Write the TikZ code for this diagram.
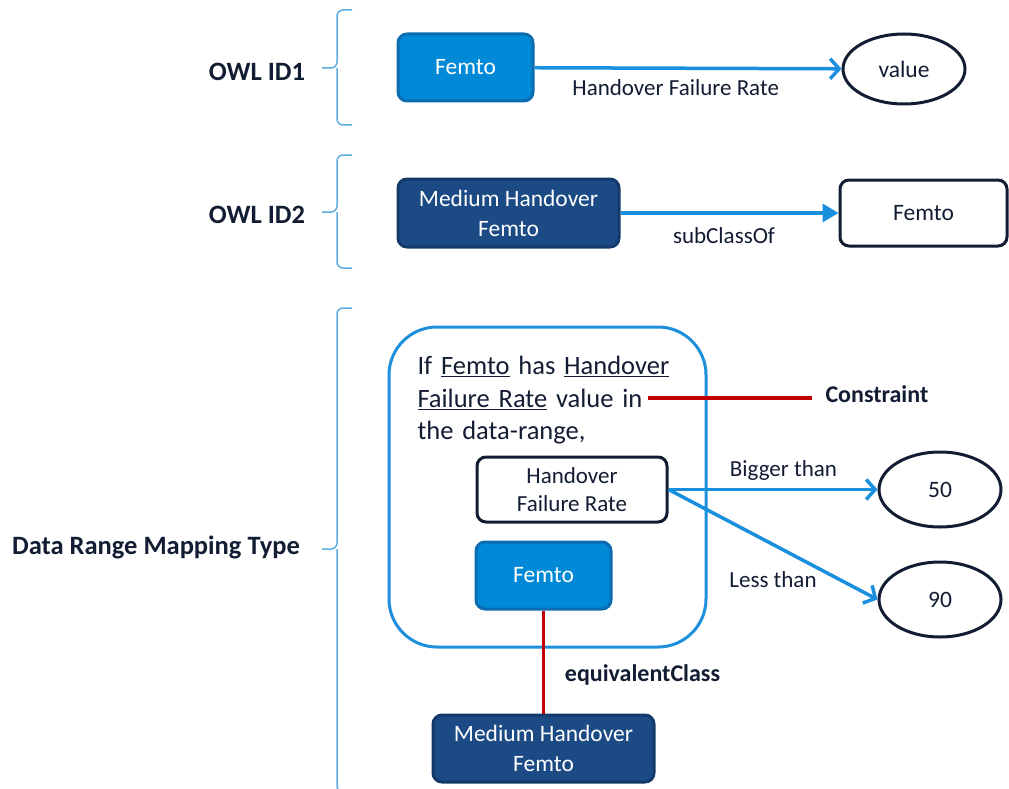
\documentclass[tikz,border=0pt]{standalone}
\usepackage{fontspec}
\setmainfont{Carlito}
\usetikzlibrary{arrows.meta,shapes.geometric,positioning}

\definecolor{femtoblue}{HTML}{0089D6}
\definecolor{femtoedge}{HTML}{0B6DB0}
\definecolor{darkblue}{HTML}{1B4A84}
\definecolor{darkedge}{HTML}{143A6B}
\definecolor{arrowblue}{HTML}{1A8FDD}
\definecolor{frameblue}{HTML}{1E8FDA}
\definecolor{bracecolor}{HTML}{5DADE2}
\definecolor{redline}{HTML}{C00000}
\definecolor{ink}{HTML}{121C33}

\begin{document}
\begin{tikzpicture}[x=1pt,y=-1pt,line width=3pt,
  box/.style={rectangle,rounded corners=9pt,draw,inner sep=0pt,align=center,font=\fontsize{23.5}{30}\selectfont},
  light node/.style={box,fill=femtoblue,draw=femtoedge,text=white},
  dark node/.style={box,fill=darkblue,draw=darkedge,text=white},
  plain node/.style={box,fill=white,draw=ink,text=ink},
  value node/.style={ellipse,draw=ink,fill=white,inner sep=0pt,text=ink,minimum width=122pt,font=\fontsize{23.5}{28}\selectfont},
  group label/.style={font=\bfseries\fontsize{26.5}{30}\selectfont,text=ink},
  edge label/.style={font=\fontsize{23}{28}\selectfont,text=ink,inner sep=2pt},
  note label/.style={font=\bfseries\fontsize{24}{28}\selectfont,text=ink,inner sep=0pt},
  link/.style={draw=arrowblue,line width=3.5pt,-{Straight Barb[length=9pt,width=20pt]}},
  sub link/.style={draw=arrowblue,line width=3.5pt,-{Triangle[length=16pt,width=18pt]}},
  red link/.style={draw=redline,line width=3.5pt},
  group brace/.style={draw=bracecolor,line width=1.5pt,rounded corners=6pt}]
    \useasboundingbox (0,0) rectangle (1009,789);

    % left column
    \node[group label] (owl1) at (257,72) {OWL ID1};
    \node[group label] (owl2) at (257,215) {OWL ID2};
    \node[group label] (drmt) at (156,547) {Data Range Mapping Type};
    \foreach \top/\tip/\bot in {10/68/125, 155/212/268, 308/549/792}
        \draw[group brace] (352,\top) -| (337,\tip) -- (322,\tip)
                           (337,\tip) |- (352,\bot);

    % OWL ID1
    \node[light node, minimum width=135pt, minimum height=67pt] (femtoA) at (465.5,67.5) {Femto};
    \node[value node, minimum height=70pt] (value) at (904,69) {value};

    % OWL ID2
    \node[dark node, minimum width=221pt, minimum height=68pt] (mhfA) at (508.5,213) {Medium Handover\\Femto};
    \node[plain node, minimum width=167pt, minimum height=66pt] (femtoB) at (923.5,213) {Femto};

    % data range mapping
    \node[draw=frameblue, rounded corners=48pt, minimum width=317pt, minimum height=320pt] (frame) at (547.5,487) {};
    \node[anchor=north west, inner sep=0pt, text width=290pt, align=left, text=ink,
          font=\fontsize{26.5}{32.5}\selectfont] (rule) at (416,355)
          {If \underline{Femto} has \underline{Handover}\\\underline{Failure Rate} value in\\the data-range,};
    \node[plain node, minimum width=190pt, minimum height=65pt, font=\fontsize{23}{28.5}\selectfont] (hfr) at (572,489.5) {Handover\\Failure Rate};
    \node[light node, minimum width=135pt, minimum height=67pt] (femtoC) at (543.5,575.5) {Femto};
    \node[dark node, minimum width=221pt, minimum height=67pt] (mhfB) at (543.5,748.5) {Medium Handover\\Femto};
    \node[value node, minimum height=75pt] (n50) at (940,489.5) {50};
    \node[value node, minimum height=75pt] (n90) at (940,599.5) {90};

    \coordinate (cstart) at (648,398);
    \node[note label, anchor=west] (constraint) at (824,394) {Constraint};
    \node[note label] (equiv) at (642.5,675) {equivalentClass};

    \path[link] (femtoA) -- node[edge label, below=8pt, pos=0.46] {Handover Failure Rate} (value);
    \path[sub link] (mhfA) -- node[edge label, below=11pt, pos=0.475] {subClassOf} (femtoB);
    \path[link] (hfr.east) -- node[edge label, above=5pt, pos=0.55] {Bigger than} (n50);
    \path[link] (hfr.east) -- node[edge label, below=23pt, pos=0.5] {Less than} (n90.west);
    \path[red link] (cstart) -- ([xshift=-12pt]constraint.west |- cstart);
    \path[red link] (femtoC) -- (mhfB);
\end{tikzpicture}
\end{document}
